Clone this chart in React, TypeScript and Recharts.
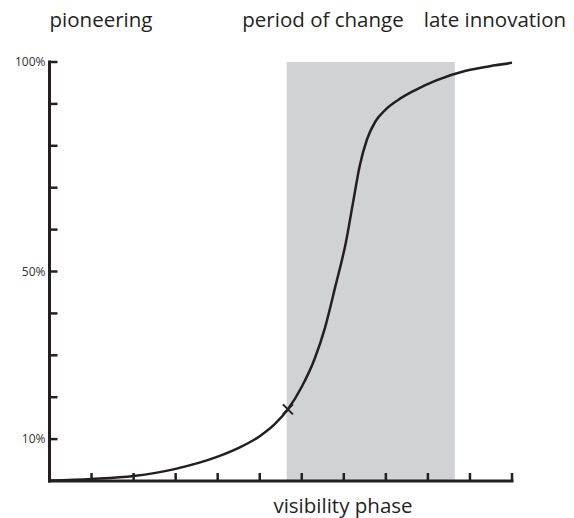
import React from 'react';
import { LineChart, Line, XAxis, YAxis, ReferenceArea, ReferenceDot } from 'recharts';

const phaseX = [0, 1, 2, 3, 4, 4.5, 5.0, 5.35, 5.67, 6.0, 6.3, 6.55, 6.8, 7.05, 7.22, 7.38, 7.55, 7.75, 8.0, 8.3, 8.7, 9.2, 9.9, 10.6, 11];
const adoption = [0.1, 0.5, 1.2, 2.9, 5.8, 7.9, 10.7, 13.5, 17.1, 22.5, 29, 36.5, 46.5, 57, 66.5, 75.3, 81.5, 85.8, 88.7, 91.0, 93.3, 95.6, 97.9, 99.2, 99.8];

const xTicks = [0, 1, 2, 3, 4, 5, 6, 7, 8, 9, 10, 11];
const yTicks = [0, 10, 20, 30, 40, 50, 60, 70, 80, 90, 100];
const yLabels: Record<number, string> = { 10: '10%', 50: '50%', 100: '100%' };

const changeStart = 5.64;
const changeEnd = 9.64;
const markerX = 5.67;
const markerY = 17.1;

const data = phaseX.map((x, i) => ({ x, y: adoption[i] }));

const INK = '#231f20';
const FONT = '"Open Sans", "DejaVu Sans", sans-serif';

const YTick = (props: any) => {
  const { x, y, payload } = props;
  const label = yLabels[payload.value];
  return (
    <g>
      {payload.value !== 0 && (
        <line x1={x} x2={x + 8} y1={y} y2={y} stroke={INK} strokeWidth={2.5} />
      )}
      {label && (
        <text x={x - 4} y={y} dy={4} textAnchor="end" fontSize={12} fill="#333333" fontFamily={FONT}>
          {label}
        </text>
      )}
    </g>
  );
};

const XTick = (props: any) => {
  const { x, y, payload } = props;
  if (payload.value === 0) return <g />;
  return <line x1={x} x2={x} y1={y} y2={y - 8} stroke={INK} strokeWidth={2.5} />;
};

const Star = (props: any) => {
  const { cx, cy } = props;
  const r = 5;
  return (
    <g stroke={INK} strokeWidth={2}>
      <line x1={cx - r} y1={cy - r} x2={cx + r} y2={cy + r} />
      <line x1={cx - r} y1={cy + r} x2={cx + r} y2={cy - r} />
    </g>
  );
};

const labelStyle: React.CSSProperties = {
  position: 'absolute',
  fontFamily: FONT,
  fontSize: 20.5,
  color: INK,
  whiteSpace: 'nowrap',
  transform: 'translate(-50%, -50%)',
  lineHeight: 1,
};

export default function App() {
  return (
    <div style={{ position: 'relative', width: 560, height: 510 }}>
      <LineChart width={560} height={510} data={data} margin={{ top: 54, right: 56, left: 0, bottom: 0 }}>
        <ReferenceArea x1={changeStart} x2={changeEnd} y1={0} y2={100} fill="#d1d2d4" fillOpacity={1} stroke="none" />
        <XAxis
          type="number"
          dataKey="x"
          domain={[0, 11]}
          ticks={xTicks}
          height={37}
          tickSize={0}
          tickMargin={0}
          tickLine={false}
          tick={<XTick />}
          axisLine={{ stroke: INK, strokeWidth: 3, strokeLinecap: 'square' }}
        />
        <YAxis
          type="number"
          domain={[0, 100]}
          ticks={yTicks}
          width={41.5}
          tickSize={0}
          tickMargin={0}
          tickLine={false}
          tick={<YTick />}
          axisLine={{ stroke: INK, strokeWidth: 3, strokeLinecap: 'square' }}
        />
        <Line type="monotone" dataKey="y" stroke={INK} strokeWidth={2.5} dot={false} isAnimationActive={false} />
        <ReferenceDot x={markerX} y={markerY} r={5} shape={<Star />} />
      </LineChart>
      <div style={{ ...labelStyle, left: 101 - 8, top: 19 - 8 }}>pioneering</div>
      <div style={{ ...labelStyle, left: 323 - 8, top: 19 - 8 }}>period of change</div>
      <div style={{ ...labelStyle, left: 495 - 8, top: 19 - 8 }}>late innovation</div>
      <div style={{ ...labelStyle, left: 343 - 8, top: 505 - 8 }}>visibility phase</div>
    </div>
  );
}
